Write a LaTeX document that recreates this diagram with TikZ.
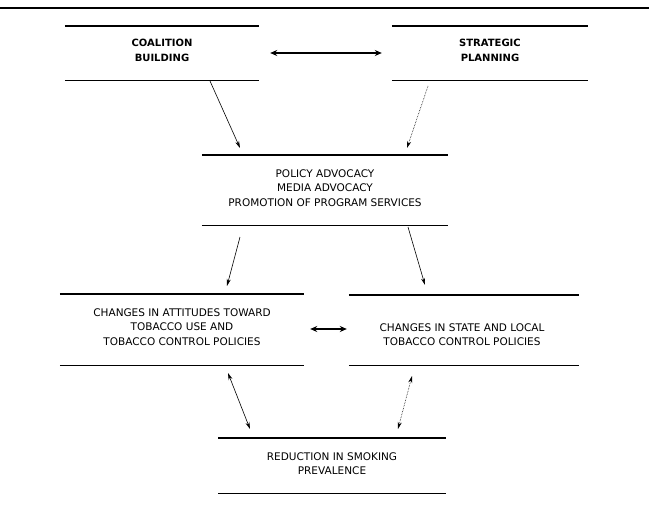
\documentclass[tikz,border=0pt]{standalone}
\usepackage{fontspec}
\setmainfont{DejaVu Sans}
\usetikzlibrary{arrows.meta}
\tikzset{
  boxnode/.style={inner sep=0pt, align=center, font=\fontsize{10.5}{14.5}\selectfont},
  rulebox/.style={line width=1.4pt},
  link/.style={line width=0.6pt, -{Stealth[length=7pt,width=4pt]}},
  duallink/.style={line width=0.6pt, {Stealth[length=7pt,width=4pt]}-{Stealth[length=7pt,width=4pt]}},
  thicklink/.style={line width=1.5pt, {Stealth[length=7pt,width=6pt]}-{Stealth[length=7pt,width=6pt]}}
}
\begin{document}
\begin{tikzpicture}[x=1pt,y=-1pt]
\useasboundingbox (0,0) rectangle (649,514);
\draw[line width=2.4pt] (0,8) -- (649,8);

% boxes
\node[boxnode, minimum width=194pt, minimum height=54pt] (coal) at (162,53) {};
\node[boxnode, font=\fontsize{10}{14.5}\bfseries] (coalt) at (162,50.5) {COALITION\\BUILDING};
\node[boxnode, minimum width=196pt, minimum height=54pt] (strat) at (490,53) {};
\node[boxnode, font=\fontsize{10}{14.5}\bfseries] (stratt) at (490,50.5) {STRATEGIC\\PLANNING};
\node[boxnode, minimum width=246pt, minimum height=70pt] (adv) at (325,190) {};
\node[boxnode] (advt) at (325,188) {POLICY ADVOCACY\\MEDIA ADVOCACY\\PROMOTION OF PROGRAM SERVICES};
\node[boxnode, minimum width=244pt, minimum height=71pt] (att) at (182,329.5) {};
\node[boxnode] (attt) at (182,327) {CHANGES IN ATTITUDES TOWARD\\TOBACCO USE AND\\TOBACCO CONTROL POLICIES};
\node[boxnode, minimum width=230pt, minimum height=70pt] (pol) at (464,330) {};
\node[boxnode] (polt) at (462,334.5) {CHANGES IN STATE AND LOCAL\\TOBACCO CONTROL POLICIES};
\node[boxnode, minimum width=227pt, minimum height=55pt] (red) at (332,465.5) {};
\node[boxnode] (redt) at (332,463.5) {REDUCTION IN SMOKING\\PREVALENCE};

\foreach \n in {coal,strat,adv,att,pol,red}{
  \draw[rulebox] (\n.north west) -- (\n.north east);
  \draw[rulebox] (\n.south west) -- (\n.south east);
}

% connector end points
\coordinate (c1) at (210,81);
\coordinate (c2) at (240,148);
\coordinate (s1) at (428,86);
\coordinate (s2) at (407,148);
\coordinate (m1) at (240,237);
\coordinate (m2) at (227,286);
\coordinate (m3) at (408,227);
\coordinate (m4) at (425,285);
\coordinate (l1) at (228,373);
\coordinate (l2) at (250,429);
\coordinate (r1) at (412,376);
\coordinate (r2) at (398,429);

\draw[thicklink] ([xshift=11pt]coal.east) -- ([xshift=-10pt]strat.west);
\draw[link] (c1) -- (c2);
\draw[link, densely dotted] (s1) -- (s2);
\draw[link] (m1) -- (m2);
\draw[link] (m3) -- (m4);
\draw[thicklink] ([xshift=6pt,yshift=0.5pt]att.east) -- ([xshift=-2pt,yshift=1pt]pol.west);
\draw[duallink] (l1) -- (l2);
\draw[duallink, densely dotted] (r1) -- (r2);
\end{tikzpicture}
\end{document}
